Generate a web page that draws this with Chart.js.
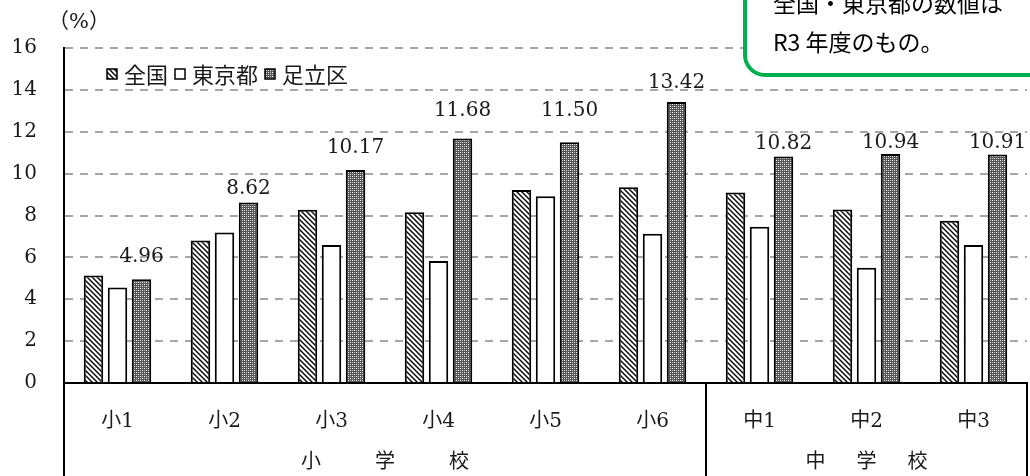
<!DOCTYPE html>
<html lang="ja">
<head>
<meta charset="utf-8">
<script src="https://cdn.jsdelivr.net/npm/chart.js@4.4.0/dist/chart.umd.min.js"></script>
<style>
  html, body { margin: 0; padding: 0; background: #fff; }
  #wrap { width: 1030px; height: 476px; }
</style>
</head>
<body>
<div id="wrap"><canvas id="chart1"></canvas></div>
<script>
// data
const grades = ['小1', '小2', '小3', '小4', '小5', '小6', '中1', '中2', '中3'];
const zenkoku = [5.14, 6.81, 8.27, 8.16, 9.22, 9.35, 9.10, 8.29, 7.75];
const tokyo = [4.56, 7.19, 6.59, 5.83, 8.92, 7.13, 7.46, 5.51, 6.59];
const adachi = [4.96, 8.62, 10.17, 11.68, 11.50, 13.42, 10.82, 10.94, 10.91];
const seriesNames = ['全国', '東京都', '足立区'];
const groupNames = ['小学校', '中学校'];
const groupSizes = [6, 3];
const yMin = 0, yMax = 16, yStep = 2;
const unitLabel = '（%）';
const noteLines = ['全国・東京都の数値は', 'R3 年度のもの。'];

// label nudges (px above bar top) as placed in the original
const labelLift = [22, 14, 22, 28, 31, 19, 13, 11, 12];
const groupCharGap = [74, 51];

const numFont = '"DejaVu Serif", "Noto Sans CJK JP", serif';
const jpFont = '"Noto Sans CJK JP", sans-serif';

function hatchPattern() {
  const c = document.createElement('canvas');
  c.width = c.height = 5;
  const g = c.getContext('2d');
  g.fillStyle = '#fff';
  g.fillRect(0, 0, 5, 5);
  g.strokeStyle = '#000';
  g.lineWidth = 1.4;
  g.beginPath();
  g.moveTo(-1, -1); g.lineTo(6, 6);
  g.moveTo(-1, 4); g.lineTo(1, 6);
  g.moveTo(4, -1); g.lineTo(6, 1);
  g.stroke();
  return g.createPattern(c, 'repeat');
}

function dotPattern() {
  const c = document.createElement('canvas');
  c.width = c.height = 4;
  const g = c.getContext('2d');
  g.fillStyle = '#555';
  g.fillRect(0, 0, 4, 4);
  g.fillStyle = '#fff';
  g.fillRect(0, 0, 1, 1);
  g.fillRect(2, 2, 1, 1);
  g.fillStyle = '#c0c0c0';
  g.fillRect(2, 0, 1, 1);
  g.fillRect(0, 2, 1, 1);
  return g.createPattern(c, 'repeat');
}

const fills = [hatchPattern(), '#ffffff', dotPattern()];

// value labels over 足立区 bars
const valueLabels = {
  id: 'valueLabels',
  afterDatasetsDraw(chart) {
    const ctx = chart.ctx;
    const meta = chart.getDatasetMeta(2);
    ctx.save();
    ctx.font = '20px ' + numFont;
    ctx.fillStyle = '#1a1a1a';
    ctx.textAlign = 'center';
    ctx.textBaseline = 'middle';
    meta.data.forEach((bar, i) => {
      ctx.fillText(adachi[i].toFixed(2), bar.x, bar.y - labelLift[i]);
    });
    ctx.restore();
  }
};

// legend, unit label, group table and note box
const decorations = {
  id: 'decorations',
  afterDraw(chart) {
    const ctx = chart.ctx;
    const area = chart.chartArea;
    const x = chart.scales.x;
    const bottom = chart.height;
    const catW = (area.right - area.left) / grades.length;

    ctx.save();
    // table lines under the axis
    ctx.strokeStyle = '#000';
    ctx.lineWidth = 2;
    ctx.beginPath();
    ctx.moveTo(area.left, area.bottom);
    ctx.lineTo(area.left, bottom);
    let idx = 0;
    groupSizes.forEach(n => {
      idx += n;
      const gx = x.getPixelForValue(idx - 1) + catW / 2;
      ctx.moveTo(gx, area.bottom);
      ctx.lineTo(gx, bottom);
    });
    ctx.stroke();

    // group names
    ctx.font = '20px ' + jpFont;
    ctx.fillStyle = '#1a1a1a';
    ctx.textAlign = 'center';
    ctx.textBaseline = 'middle';
    idx = 0;
    groupSizes.forEach((n, gi) => {
      const left = x.getPixelForValue(idx) - catW / 2;
      const right = x.getPixelForValue(idx + n - 1) + catW / 2;
      const cx = (left + right) / 2;
      const chars = Array.from(groupNames[gi]);
      chars.forEach((ch, k) => {
        ctx.fillText(ch, cx + (k - (chars.length - 1) / 2) * groupCharGap[gi], 460);
      });
      idx += n;
    });

    // unit label
    ctx.font = '21px ' + numFont;
    ctx.fillText(unitLabel, 79, 23);

    // legend
    ctx.font = '22px ' + jpFont;
    ctx.textAlign = 'left';
    let lx = 101;
    const ly = 74;
    seriesNames.forEach((name, i) => {
      ctx.fillStyle = fills[i];
      ctx.fillRect(lx + 6, ly - 5, 10, 10);
      ctx.lineWidth = 1.5;
      ctx.strokeStyle = '#000';
      ctx.strokeRect(lx + 6, ly - 5, 10, 10);
      lx += 23;
      ctx.fillStyle = '#1a1a1a';
      ctx.fillText(name, lx, ly + 1);
      lx += ctx.measureText(name).width + 1;
    });

    // note box
    ctx.beginPath();
    ctx.roundRect(745, -40, 330, 115, 20);
    ctx.fillStyle = '#fff';
    ctx.fill();
    ctx.lineWidth = 4;
    ctx.strokeStyle = '#00b050';
    ctx.stroke();
    ctx.font = '23px ' + jpFont;
    ctx.fillStyle = '#000';
    ctx.textAlign = 'left';
    ctx.textBaseline = 'middle';
    ctx.fillText(noteLines[0], 773, 3);
    ctx.fillText(noteLines[1], 773, 42);
    ctx.restore();
  }
};

const ctx1 = document.getElementById('chart1').getContext('2d');
new Chart(ctx1, {
  type: 'bar',
  data: {
    labels: grades,
    datasets: [zenkoku, tokyo, adachi].map((vals, i) => ({
      label: seriesNames[i],
      data: vals,
      backgroundColor: fills[i],
      borderColor: '#000',
      borderWidth: 2,
      borderSkipped: 'bottom'
    }))
  },
  options: {
    responsive: true,
    maintainAspectRatio: false,
    animation: false,
    layout: { padding: { top: 48, right: 3, left: 0, bottom: 0 } },
    datasets: { bar: { categoryPercentage: 0.673, barPercentage: 0.81 } },
    plugins: {
      legend: { display: false },
      tooltip: { enabled: false }
    },
    scales: {
      x: {
        grid: { display: false, drawTicks: false },
        border: { color: '#000', width: 2 },
        ticks: {
          color: '#1a1a1a',
          font: { family: numFont, size: 20 },
          padding: 27,
          maxRotation: 0
        },
        afterFit: s => { s.height = 93; }
      },
      y: {
        min: yMin,
        max: yMax,
        ticks: {
          stepSize: yStep,
          color: '#1a1a1a',
          font: { family: numFont, size: 20 },
          padding: 27
        },
        grid: {
          drawTicks: false,
          lineWidth: 2,
          color: c => c.tick && c.tick.value === 0 ? 'rgba(0,0,0,0)' : '#a6a6a6'
        },
        border: { color: '#000', width: 2, dash: [8, 7] },
        afterFit: s => { s.width = 64; }
      }
    }
  },
  plugins: [valueLabels, decorations]
});
</script>
</body>
</html>
